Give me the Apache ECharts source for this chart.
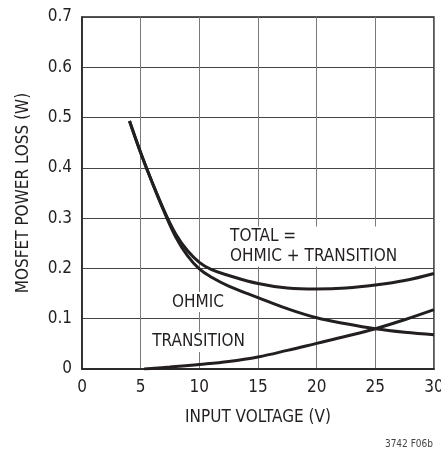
<!DOCTYPE html>
<html>
<head>
<meta charset="utf-8">
<script src="https://cdn.jsdelivr.net/npm/echarts@6/dist/echarts.min.js"></script>
<style>
html,body{margin:0;padding:0;background:#fff;}
#c{width:441px;height:449px;}
</style>
</head>
<body>
<div id="c"></div>
<script>
// Data
const totalX  = [4.05, 5, 6, 7, 8, 9, 10, 11, 12.5, 15, 17.5, 20, 22.5, 25, 27.5, 30];
const totalY  = [0.493, 0.43, 0.37, 0.315, 0.268, 0.235, 0.212, 0.198, 0.186, 0.170, 0.161, 0.159, 0.161, 0.167, 0.176, 0.190];
const ohmicX  = [4.05, 5, 6, 7, 8, 9, 10, 11, 12.5, 15, 17.5, 20, 22.5, 25, 27.5, 30];
const ohmicY  = [0.493, 0.43, 0.37, 0.313, 0.262, 0.225, 0.199, 0.183, 0.165, 0.142, 0.120, 0.102, 0.090, 0.080, 0.073, 0.068];
const transX  = [5.3, 7.5, 10, 12.5, 15, 17.5, 20, 22.5, 25, 27.5, 30];
const transY  = [0.0, 0.004, 0.009, 0.015, 0.024, 0.037, 0.051, 0.065, 0.080, 0.098, 0.118];
const xTicks = [0, 5, 10, 15, 20, 25, 30];
const yTicks = [0, 0.1, 0.2, 0.3, 0.4, 0.5, 0.6, 0.7];
const labels = [
  {text: 'TOTAL =\nOHMIC + TRANSITION', x: 12.45, y: 0.2436, align: 'left'},
  {text: 'OHMIC', x: 9.89, y: 0.133, align: 'center'},
  {text: 'TRANSITION', x: 9.93, y: 0.0537, align: 'center'}
];

const FONT = '"DejaVu Sans Condensed", "Liberation Sans Narrow", sans-serif';
const INK = '#231f20';
const FS = 17;
const zip = (xs, ys) => xs.map((x, i) => [x, ys[i]]);

const chart = echarts.init(document.getElementById('c'), null, {renderer: 'canvas'});
const lineStyle = {color: INK, width: 3};
chart.setOption({
  animation: false,
  backgroundColor: '#fff',
  grid: {left: 82, right: 7, top: 17, bottom: 80, show: true, borderColor: INK, borderWidth: 1.5,
    backgroundColor: 'transparent', containLabel: false, outerBoundsMode: 'none'},
  xAxis: {
    type: 'value', min: xTicks[0], max: xTicks[xTicks.length - 1], interval: 5,
    name: 'INPUT VOLTAGE (V)', nameLocation: 'middle', nameGap: 40,
    nameTextStyle: {fontFamily: FONT, fontSize: FS, color: INK},
    axisLine: {show: true, lineStyle: {color: INK, width: 1.5}},
    axisTick: {show: false},
    axisLabel: {fontFamily: FONT, fontSize: FS, color: INK, margin: 10},
    splitLine: {show: true, lineStyle: {color: '#7a7a7a', width: 1}}
  },
  yAxis: {
    type: 'value', min: yTicks[0], max: yTicks[yTicks.length - 1], interval: 0.1,
    name: 'MOSFET POWER LOSS (W)', nameLocation: 'middle', nameGap: 50, nameRotate: 90,
    nameTextStyle: {fontFamily: FONT, fontSize: FS, color: INK},
    axisLine: {show: true, lineStyle: {color: INK, width: 1.5}},
    axisTick: {show: false},
    axisLabel: {fontFamily: FONT, fontSize: FS, color: INK, margin: 10,
      formatter: v => (Math.abs(v) < 1e-9 ? '0' : v.toFixed(1))},
    splitLine: {show: true, lineStyle: {color: '#444', width: 1}}
  },
  series: [
    {type: 'line', name: 'TOTAL', data: zip(totalX, totalY), smooth: 0.4, symbol: 'none', lineStyle, z: 3},
    {type: 'line', name: 'OHMIC', data: zip(ohmicX, ohmicY), smooth: 0.4, symbol: 'none', lineStyle, z: 3},
    {type: 'line', name: 'TRANSITION', data: zip(transX, transY), smooth: 0.4, symbol: 'none', lineStyle, z: 3},
    {
      type: 'scatter', symbolSize: 0, z: 2, silent: true,
      itemStyle: {opacity: 1},
      data: labels.map(l => ({
        value: [l.x, l.y],
        label: {
          show: true, position: 'inside', formatter: l.text,
          align: l.align, verticalAlign: 'middle',
          fontFamily: FONT, fontSize: FS, lineHeight: 20, color: INK, opacity: 1,
          backgroundColor: '#fff', padding: [0, 2, 0, 2]
        }
      }))
    }
  ],
  graphic: [
    {type: 'text', right: 8, bottom: 0, style: {text: '3742 F06b', font: '10px ' + FONT, fill: '#444'}}
  ]
});
</script>
</body>
</html>
